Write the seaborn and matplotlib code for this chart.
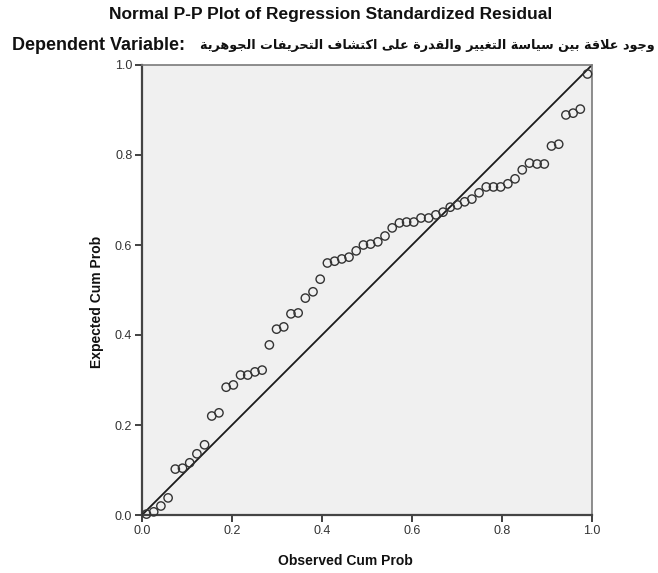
import matplotlib
matplotlib.use("Agg")
import matplotlib.pyplot as plt
import seaborn as sns

# =========================
# DATA
# =========================

TITLE = "Normal P-P Plot of Regression Standardized Residual"
DEP_LABEL = "Dependent Variable:"
DEP_VAR = "وجود علاقة بين سياسة التغيير والقدرة على اكتشاف التحريفات الجوهرية"
X_LABEL = "Observed Cum Prob"
Y_LABEL = "Expected Cum Prob"

TICKS = [0.0, 0.2, 0.4, 0.6, 0.8, 1.0]
DIAGONAL = [0.0, 1.0]

observed = [
    0.010, 0.026, 0.042, 0.058, 0.074, 0.090, 0.106, 0.122, 0.139, 0.155,
    0.171, 0.187, 0.203, 0.219, 0.235, 0.251, 0.267, 0.283, 0.299, 0.315,
    0.331, 0.347, 0.363, 0.380, 0.396, 0.412, 0.428, 0.444, 0.460, 0.476,
    0.492, 0.508, 0.524, 0.540, 0.556, 0.572, 0.588, 0.604, 0.620, 0.637,
    0.653, 0.669, 0.685, 0.701, 0.717, 0.733, 0.749, 0.765, 0.781, 0.797,
    0.813, 0.829, 0.845, 0.861, 0.878, 0.894, 0.910, 0.926, 0.942, 0.958,
    0.974, 0.990,
]

expected = [
    0.002, 0.007, 0.020, 0.038, 0.102, 0.104, 0.116, 0.136, 0.156, 0.220,
    0.227, 0.284, 0.289, 0.311, 0.311, 0.318, 0.322, 0.378, 0.413, 0.418,
    0.447, 0.449, 0.482, 0.496, 0.524, 0.560, 0.564, 0.569, 0.573, 0.587,
    0.600, 0.602, 0.607, 0.620, 0.638, 0.649, 0.651, 0.651, 0.660, 0.660,
    0.667, 0.673, 0.684, 0.689, 0.696, 0.702, 0.716, 0.729, 0.729, 0.729,
    0.736, 0.747, 0.767, 0.782, 0.780, 0.780, 0.820, 0.824, 0.889, 0.893,
    0.902, 0.980,
]


# =========================
# ARABIC SHAPING (matplotlib has no bidi / joining)
# =========================

# (isolated, final, initial, medial) presentation forms
FORMS = {
    "ا": ("\uFE8D", "\uFE8E"),
    "ب": ("\uFE8F", "\uFE90", "\uFE91", "\uFE92"),
    "ة": ("\uFE93", "\uFE94"),
    "ت": ("\uFE95", "\uFE96", "\uFE97", "\uFE98"),
    "ج": ("\uFE9D", "\uFE9E", "\uFE9F", "\uFEA0"),
    "ح": ("\uFEA1", "\uFEA2", "\uFEA3", "\uFEA4"),
    "د": ("\uFEA9", "\uFEAA"),
    "ر": ("\uFEAD", "\uFEAE"),
    "س": ("\uFEB1", "\uFEB2", "\uFEB3", "\uFEB4"),
    "ش": ("\uFEB5", "\uFEB6", "\uFEB7", "\uFEB8"),
    "ع": ("\uFEC9", "\uFECA", "\uFECB", "\uFECC"),
    "غ": ("\uFECD", "\uFECE", "\uFECF", "\uFED0"),
    "ف": ("\uFED1", "\uFED2", "\uFED3", "\uFED4"),
    "ق": ("\uFED5", "\uFED6", "\uFED7", "\uFED8"),
    "ك": ("\uFED9", "\uFEDA", "\uFEDB", "\uFEDC"),
    "ل": ("\uFEDD", "\uFEDE", "\uFEDF", "\uFEE0"),
    "ن": ("\uFEE5", "\uFEE6", "\uFEE7", "\uFEE8"),
    "ه": ("\uFEE9", "\uFEEA", "\uFEEB", "\uFEEC"),
    "و": ("\uFEED", "\uFEEE"),
    "ى": ("\uFEEF", "\uFEF0"),
    "ي": ("\uFEF1", "\uFEF2", "\uFEF3", "\uFEF4"),
    "لا": ("\uFEFB", "\uFEFC"),
}


def shape_arabic(text):
    tokens = []
    i = 0
    while i < len(text):
        if text[i] == "ل" and i + 1 < len(text) and text[i + 1] == "ا":
            tokens.append("لا")
            i += 2
        else:
            tokens.append(text[i])
            i += 1

    def joins_forward(t):
        return t in FORMS and len(FORMS[t]) == 4

    out = []
    for k, t in enumerate(tokens):
        if t not in FORMS:
            out.append(t)
            continue
        prev_j = k > 0 and joins_forward(tokens[k - 1])
        next_j = joins_forward(t) and k + 1 < len(tokens) and tokens[k + 1] in FORMS
        f = FORMS[t]
        if prev_j and next_j:
            out.append(f[3])
        elif prev_j:
            out.append(f[1])
        elif next_j:
            out.append(f[2])
        else:
            out.append(f[0])
    # visual order, right to left
    return "".join(out)[::-1]


# =========================
# PLOT
# =========================

sns.set_style("ticks")
plt.rcParams["font.family"] = ["Liberation Sans", "DejaVu Sans"]

fig = plt.figure(figsize=(6.58, 5.73), dpi=100)
ax = fig.add_axes([142 / 658, 1 - 515 / 573, 450 / 658, 450 / 573])
ax.set_facecolor("#F0F0F0")

sns.lineplot(x=DIAGONAL, y=DIAGONAL, color="#1a1a1a", linewidth=1.3, ax=ax)
sns.scatterplot(x=observed, y=expected, s=36, marker="o",
                facecolor="none", edgecolor="#333333", linewidth=1.0,
                clip_on=False, zorder=3, ax=ax)

ax.set_xlim(0, 1)
ax.set_ylim(0, 1)
ax.set_xticks(TICKS)
ax.set_yticks(TICKS)
ax.set_xticklabels([f"{t:.1f}" for t in TICKS])
ax.set_yticklabels([f"{t:.1f}" for t in TICKS])
ax.tick_params(direction="out", length=5, width=1.3, color="#333333",
               labelsize=9, labelcolor="#333333", pad=2)
ax.set_xlabel("")
ax.set_ylabel("")

for side in ["left", "bottom"]:
    ax.spines[side].set_color("#444444")
    ax.spines[side].set_linewidth(1.6)
for side in ["top", "right"]:
    ax.spines[side].set_visible(True)
    ax.spines[side].set_color("#7a7a7a")
    ax.spines[side].set_linewidth(1.2)

fig.text(331 / 658, 1 - 14 / 573, TITLE, ha="center", va="center",
         fontsize=12.5, fontweight="bold", color="#111111")
fig.text(12 / 658, 1 - 45 / 573, DEP_LABEL,
         ha="left", va="center", fontsize=13, fontweight="bold", color="#111111")
fig.text(655 / 658, 1 - 45 / 573, shape_arabic(DEP_VAR), family="DejaVu Sans",
         ha="right", va="center", fontsize=9.2, fontweight="bold", color="#111111")
fig.text(345 / 658, 1 - 561 / 573, X_LABEL, ha="center", va="center",
         fontsize=10, fontweight="bold", color="#111111")
fig.text(97 / 658, 1 - 302 / 573, Y_LABEL, ha="center", va="center",
         rotation=90, fontsize=10, fontweight="bold", color="#111111")

plt.savefig("out.png", dpi=100)
